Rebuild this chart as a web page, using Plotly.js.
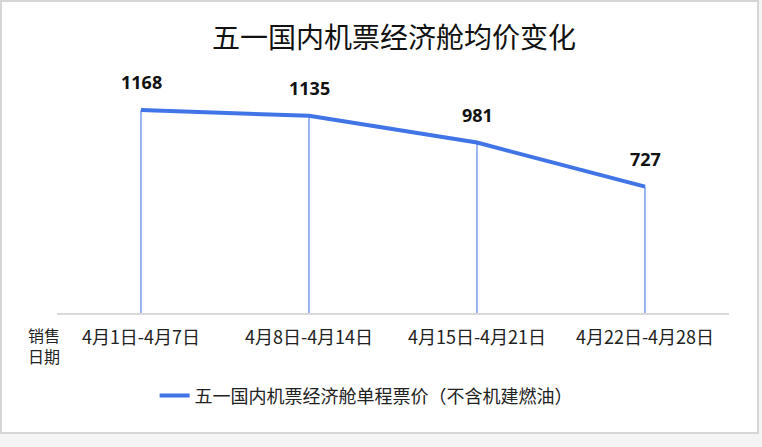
<!DOCTYPE html>
<html>
<head>
<meta charset="utf-8">
<script src="https://cdn.plot.ly/plotly-3.0.1.min.js"></script>
<style>
html,body{margin:0;padding:0;background:#f4f4f4;}
#frame{position:absolute;left:0;top:0;width:755px;height:430px;border:2px solid #d6d6d6;background:#fff;}
#chart{position:absolute;left:0;top:0;width:762px;height:447px;}
</style>
</head>
<body>
<div id="frame"></div>
<div id="chart"></div>
<script>
const categories = ['4月1日-4月7日', '4月8日-4月14日', '4月15日-4月21日', '4月22日-4月28日'];
const prices = [1168, 1135, 981, 727];
const seriesName = '五一国内机票经济舱单程票价（不含机建燃油）';
const chartTitle = '五一国内机票经济舱均价变化';
const axisLabel = '销售<br>日期';

const FONT = '"Noto Sans CJK SC", "Noto Sans", sans-serif';
const LINE = '#4174e6';

const traces = [
  {
    x: categories, y: prices, type: 'scatter', mode: 'lines',
    showlegend: false, hoverinfo: 'skip',
    line: {width: 0},
    error_y: {type: 'data', symmetric: false, array: prices.map(() => 0), arrayminus: prices,
      color: 'rgba(65,110,228,0.8)', thickness: 1.3, width: 0}
  },
  {
    x: categories, y: prices, type: 'scatter', mode: 'lines',
    name: seriesName, line: {color: LINE, width: 4}, hoverinfo: 'skip'
  }
];

const annotations = categories.map((c, i) => ({
  x: c, y: prices[i], xref: 'x', yref: 'y', text: '<b>' + prices[i] + '</b>',
  showarrow: false, yshift: 28, font: {family: '"Noto Sans", sans-serif', size: 18, color: '#111'}
}));
annotations.push({
  xref: 'paper', yref: 'paper', x: 0.008, xanchor: 'right', y: -0.2375, text: axisLabel, showarrow: false,
  align: 'left', font: {family: FONT, size: 16, color: '#222'}
});

const layout = {
  width: 762, height: 447,
  margin: {l: 57, r: 33, t: 72, b: 134},
  paper_bgcolor: 'rgba(0,0,0,0)', plot_bgcolor: 'rgba(0,0,0,0)',
  title: {text: chartTitle, x: 0.517, xanchor: 'center', y: 0.915, yanchor: 'middle',
    font: {family: FONT, size: 28, color: '#111'}},
  xaxis: {type: 'category', range: [-0.5, 3.5], showgrid: false, zeroline: false,
    showline: true, linecolor: '#d9d9d9', linewidth: 1.5,
    ticks: 'outside', ticklen: 8, tickcolor: 'rgba(0,0,0,0)',
    tickfont: {family: FONT, size: 18, color: '#222'}},
  yaxis: {range: [0, 1387], visible: false, showgrid: false, zeroline: false},
  showlegend: true,
  legend: {orientation: 'h', x: 0.46, xanchor: 'center', y: -0.344, yanchor: 'middle',
    font: {family: FONT, size: 18, color: '#222'}, bgcolor: 'rgba(0,0,0,0)'},
  annotations: annotations,
  hovermode: false
};

Plotly.newPlot('chart', traces, layout, {displayModeBar: false, staticPlot: true});
</script>
</body>
</html>
